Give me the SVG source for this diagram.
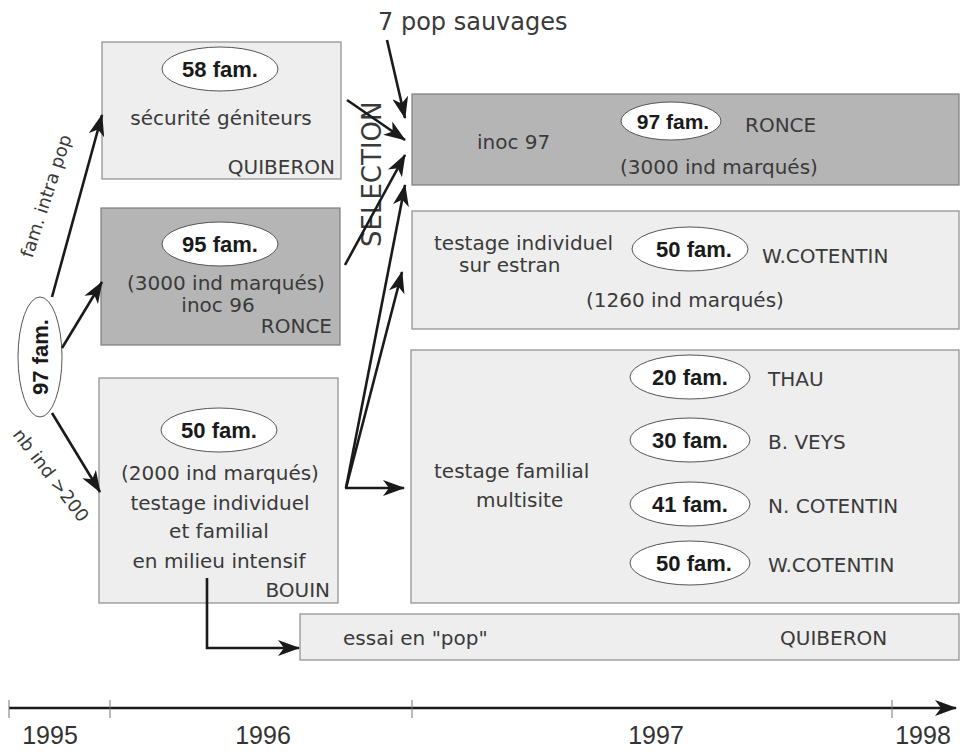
<svg xmlns="http://www.w3.org/2000/svg" width="963" height="752" viewBox="0 0 963 752">
<style>
.bl{fill:#eeeeee;stroke:#8c8c8c;stroke-width:1.2}
.bd{fill:#b5b5b5;stroke:#7c7c7c;stroke-width:1.2}
.el{fill:#ffffff;stroke:#555555;stroke-width:1}
.t{font-family:"DejaVu Sans",sans-serif;font-size:20px;fill:#3a3a3a}
.m{text-anchor:middle}
.e{text-anchor:end}
.b{font-family:"Liberation Sans",Arial,sans-serif;font-weight:bold;font-size:22px;fill:#1a1a1a;text-anchor:middle}
.c{stroke:#1a1a1a;stroke-width:2.6;fill:none}
.a{marker-end:url(#ah)}
.yr{font-family:"Liberation Sans",Arial,sans-serif;font-size:25px;fill:#333333;text-anchor:middle}
.tk{stroke:#777777;stroke-width:1}
</style>
<defs>
<marker id="ah" markerUnits="userSpaceOnUse" markerWidth="22" markerHeight="16" viewBox="0 0 22 16" refX="21" refY="8" orient="auto">
<path d="M0,0 L22,8 L0,16 L6,8 z" fill="#1a1a1a"/>
</marker>
</defs>
<rect width="963" height="752" fill="#ffffff"/>

<g id="n-quiberon">
<rect class="bl" x="102" y="42" width="239" height="137"/>
<ellipse class="el" cx="220" cy="69" rx="58" ry="22"/>
<text class="b" x="220" y="77">58 fam.</text>
<text class="t m" x="221" y="125">sécurité géniteurs</text>
<text class="t e" x="335" y="174">QUIBERON</text>
</g>

<g id="n-ronce96">
<rect class="bd" x="101" y="208" width="239" height="137"/>
<ellipse class="el" cx="220" cy="244" rx="58" ry="22"/>
<text class="b" x="220" y="252">95 fam.</text>
<text class="t m" x="226" y="290">(3000 ind marqués)</text>
<text class="t m" x="218" y="312">inoc 96</text>
<text class="t e" x="332" y="333">RONCE</text>
</g>

<g id="n-bouin">
<rect class="bl" x="99" y="378" width="239" height="225"/>
<ellipse class="el" cx="219" cy="430" rx="58" ry="22"/>
<text class="b" x="219" y="438">50 fam.</text>
<text class="t m" x="220" y="480">(2000 ind marqués)</text>
<text class="t m" x="220" y="510">testage individuel</text>
<text class="t m" x="219" y="538">et familial</text>
<text class="t m" x="219" y="568">en milieu intensif</text>
<text class="t e" x="330" y="597">BOUIN</text>
</g>

<g id="n-97fam-left">
<ellipse class="el" cx="40" cy="357" rx="22" ry="60"/>
<text class="b" transform="translate(48,357) rotate(-90)" x="0" y="0">97 fam.</text>
</g>

<g id="n-ronce97">
<rect class="bd" x="412" y="94" width="547" height="91"/>
<ellipse class="el" cx="671" cy="121" rx="50" ry="19"/>
<text class="b" x="673" y="129" style="font-size:21px">97 fam.</text>
<text class="t" x="745" y="132">RONCE</text>
<text class="t" x="477" y="149">inoc 97</text>
<text class="t" x="620" y="174">(3000 ind marqués)</text>
</g>

<g id="n-wcotentin">
<rect class="bl" x="412" y="211" width="547" height="118"/>
<text class="t" x="434" y="250">testage individuel</text>
<text class="t" x="459" y="272">sur estran</text>
<ellipse class="el" cx="690" cy="249" rx="58" ry="22"/>
<text class="b" x="694" y="257">50 fam.</text>
<text class="t" x="762" y="263">W.COTENTIN</text>
<text class="t" x="586" y="307">(1260 ind marqués)</text>
</g>

<g id="n-multisite">
<rect class="bl" x="411" y="350" width="548" height="253"/>
<text class="t" x="434" y="478">testage familial</text>
<text class="t" x="476" y="507">multisite</text>
<ellipse class="el" cx="690" cy="377" rx="60" ry="22"/>
<text class="b" x="690" y="385">20 fam.</text>
<text class="t" x="768" y="386">THAU</text>
<ellipse class="el" cx="690" cy="440" rx="60" ry="22"/>
<text class="b" x="690" y="448">30 fam.</text>
<text class="t" x="768" y="449">B. VEYS</text>
<ellipse class="el" cx="690" cy="504" rx="60" ry="22"/>
<text class="b" x="690" y="512">41 fam.</text>
<text class="t" x="768" y="513">N. COTENTIN</text>
<ellipse class="el" cx="690" cy="563" rx="60" ry="22"/>
<text class="b" x="694" y="571">50 fam.</text>
<text class="t" x="768" y="572">W.COTENTIN</text>
</g>

<g id="n-essai">
<rect class="bl" x="300" y="614" width="659" height="46"/>
<text class="t" x="343" y="645">essai en "pop"</text>
<text class="t" x="780" y="645">QUIBERON</text>
</g>

<g id="labels">
<text class="t" x="378" y="30" style="font-size:24px">7 pop sauvages</text>
<text class="t" transform="translate(381,247) rotate(-90)" x="0" y="0" style="font-size:26px">SELECTION</text>
<text class="t m" transform="translate(52,198) rotate(-72)" x="0" y="0" style="font-size:18px">fam. intra pop</text>
<text class="t m" transform="translate(46,479) rotate(52.5)" x="0" y="0" style="font-size:18px">nb ind &gt;200</text>
</g>

<g id="connectors">
<line class="c a" x1="52" y1="297" x2="102" y2="115"/>
<line class="c a" x1="62" y1="348" x2="102" y2="282"/>
<line class="c a" x1="52" y1="413" x2="100" y2="492"/>
<line class="c a" x1="387" y1="40" x2="405" y2="118"/>
<line class="c a" x1="347" y1="100" x2="405" y2="140"/>
<line class="c a" x1="345" y1="265" x2="405" y2="155"/>
<line class="c a" x1="346" y1="488" x2="405" y2="185"/>
<line class="c a" x1="346" y1="488" x2="402" y2="272"/>
<line class="c a" x1="345" y1="488" x2="404" y2="488"/>
<polyline class="c a" points="207,578 207,648 299,648"/>
</g>

<g id="timeline">
<line class="c a" x1="9" y1="708" x2="956" y2="708"/>
<line class="tk" x1="9" y1="700" x2="9" y2="718"/>
<line class="tk" x1="110" y1="700" x2="110" y2="718"/>
<line class="tk" x1="412" y1="700" x2="412" y2="718"/>
<line class="tk" x1="892" y1="700" x2="892" y2="718"/>
<text class="yr" x="50" y="744">1995</text>
<text class="yr" x="263" y="744">1996</text>
<text class="yr" x="656" y="744">1997</text>
<text class="yr" x="923" y="744">1998</text>
</g>
</svg>
